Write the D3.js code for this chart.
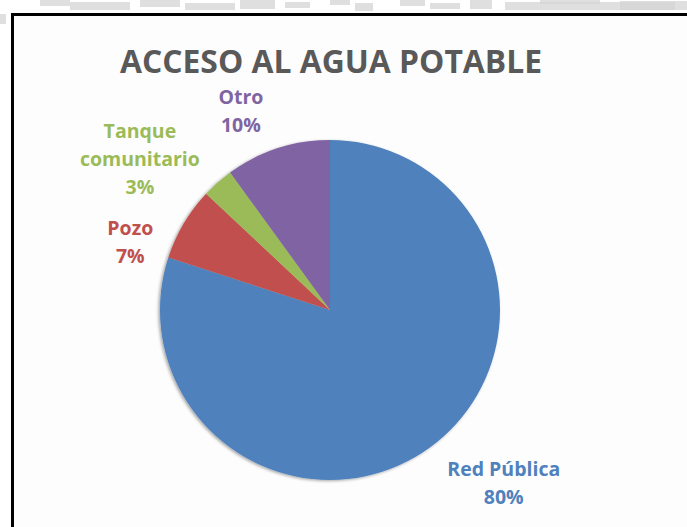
<!DOCTYPE html>
<html>
<head>
<meta charset="utf-8">
<script src="https://cdn.jsdelivr.net/npm/d3@7"></script>
<style>
  html, body { margin: 0; padding: 0; background: #ffffff; }
  svg { display: block; }
</style>
</head>
<body>
<svg id="chart" width="687" height="527"></svg>
<script>
// Water access by source (percent of households)
const categories = ["Red Pública", "Pozo", "Tanque comunitario", "Otro"];
const values = [80, 7, 3, 10];
const labelLines = [["Red Pública"], ["Pozo"], ["Tanque", "comunitario"], ["Otro"]];
const colors = ["#4F81BD", "#C0504D", "#9BBB59", "#8064A2"];
const title = "ACCESO AL AGUA POTABLE";

const W = 687, H = 527;
const svg = d3.select("#chart");

// scanned page background above the frame
const grain = svg.append("g").attr("fill", "#d4d4d4");
[[40, 0, 30, 6], [70, 2, 60, 8], [140, 0, 40, 7], [185, 3, 50, 7], [240, 0, 35, 9],
 [285, 2, 25, 6], [330, 0, 20, 5], [355, 3, 18, 8], [400, 0, 25, 6], [430, 3, 30, 6],
 [470, 0, 22, 9], [505, 2, 170, 8], [540, 0, 60, 4], [620, 1, 67, 9], [0, 14, 6, 10]]
  .forEach(r => grain.append("rect").attr("x", r[0]).attr("y", r[1]).attr("width", r[2]).attr("height", r[3]).attr("opacity", 0.75));

// chart frame
svg.append("rect").attr("x", 12.5).attr("y", 14.5).attr("width", W).attr("height", H)
  .attr("fill", "#fdfdfd").attr("stroke", "#000").attr("stroke-width", 3);

const defs = svg.append("defs");
const f = defs.append("filter").attr("id", "sh").attr("x", "-10%").attr("y", "-10%").attr("width", "120%").attr("height", "120%");
f.append("feDropShadow").attr("dx", -1.5).attr("dy", 1).attr("stdDeviation", 1.6)
  .attr("flood-color", "#000").attr("flood-opacity", 0.35);

// title
svg.append("text")
  .attr("x", 331).attr("y", 73)
  .attr("text-anchor", "middle")
  .attr("font-family", "'Open Sans', sans-serif")
  .attr("font-weight", 700)
  .attr("font-size", 33)
  .attr("fill", "#595959")
  .attr("textLength", 422).attr("lengthAdjust", "spacingAndGlyphs")
  .text(title);

const cx = 330, cy = 310, R = 170;
const pie = d3.pie().sort(null).value(d => d)(values);
const arc = d3.arc().innerRadius(0).outerRadius(R);

const g = svg.append("g").attr("transform", `translate(${cx},${cy})`);
g.append("g").attr("filter", "url(#sh)")
  .selectAll("path").data(pie).join("path")
  .attr("d", arc)
  .attr("fill", (d, i) => colors[i]);

// outside labels placed along each slice's mid-angle
const labelRadius = [245, 211, 243, 218];
const labelTurn = [-0.16, -0.206, -0.176, -0.107];
const lh = 28;
pie.forEach((d, i) => {
  const a = (d.startAngle + d.endAngle) / 2 + labelTurn[i];
  const x = Math.sin(a) * labelRadius[i];
  const y = -Math.cos(a) * labelRadius[i];
  const lines = labelLines[i].concat([d3.format(".0f")(values[i]) + "%"]);
  const t = g.append("text")
    .attr("text-anchor", "middle")
    .attr("font-family", "'Open Sans', sans-serif")
    .attr("font-weight", 700)
    .attr("font-size", 19.5)
    .attr("fill", colors[i]);
  const y0 = y - (lines.length - 1) * lh / 2;
  lines.forEach((s, k) => t.append("tspan").attr("x", x).attr("y", y0 + k * lh + 7).text(s));
});
</script>
</body>
</html>
